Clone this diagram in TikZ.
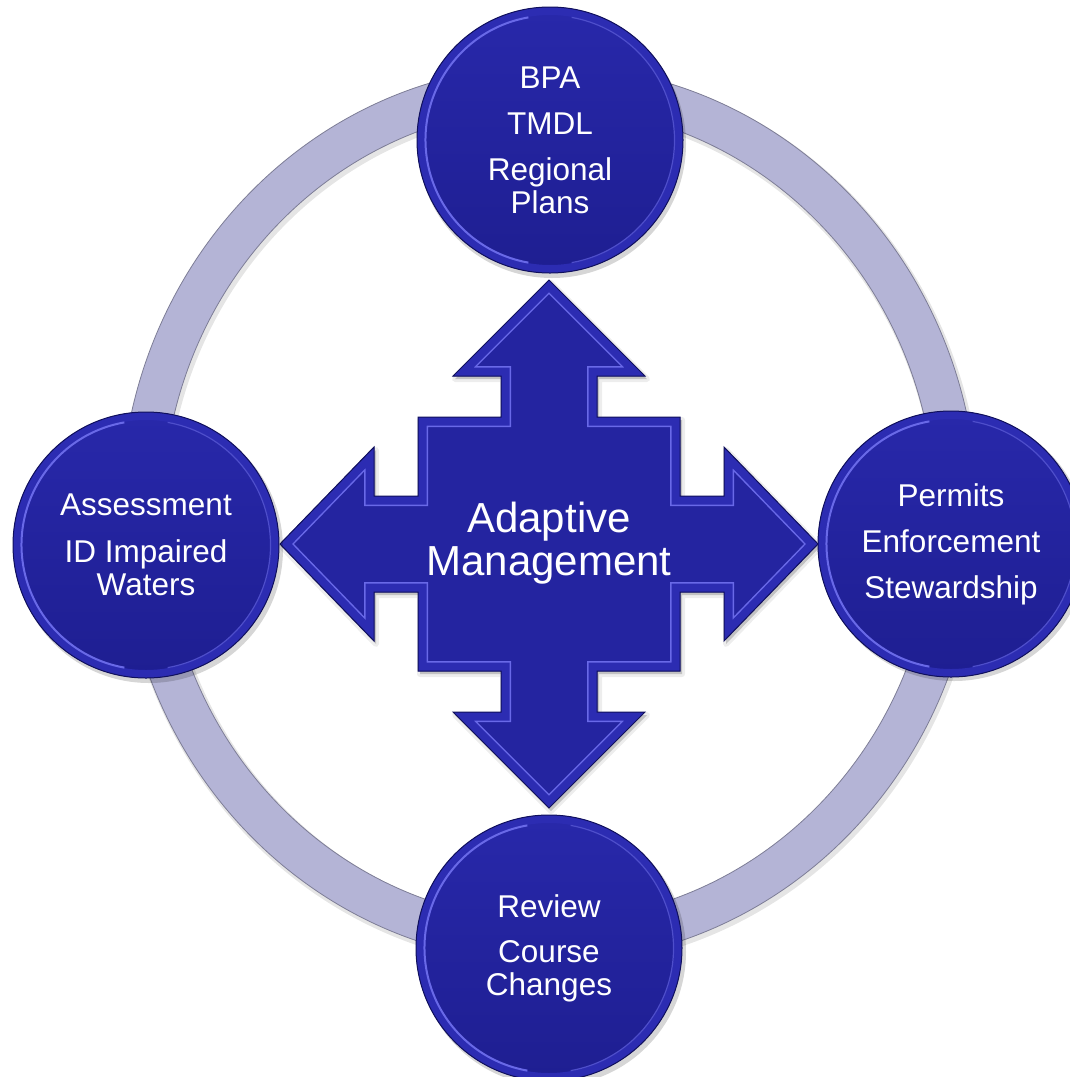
\documentclass[tikz,border=0pt]{standalone}
\usepackage{fontspec}
\setmainfont{Liberation Sans}
\definecolor{ringfill}{RGB}{180,180,214}
\definecolor{ringline}{RGB}{125,125,150}
\definecolor{bluefill}{RGB}{36,36,160}
\definecolor{bluetop}{RGB}{40,40,170}
\definecolor{bluebot}{RGB}{30,30,145}
\definecolor{bluedark}{RGB}{16,16,92}
\definecolor{bluebevel}{RGB}{44,44,178}
\definecolor{bluelight}{RGB}{105,105,232}
\def\crossshape{(549,280) -- (645,376) -- (597,376) -- (597,417) -- (680,417) -- (680,496) -- (724,496) -- (724,447) -- (818,544) -- (724,641) -- (724,592) -- (680,592) -- (680,671) -- (597,671) -- (597,712) -- (645,712) -- (549,808) -- (453,712) -- (501,712) -- (501,671) -- (418,671) -- (418,592) -- (374,592) -- (374,641) -- (280,544) -- (374,447) -- (374,496) -- (418,496) -- (418,417) -- (501,417) -- (501,376) -- (453,376) -- cycle}
\begin{document}
\begin{tikzpicture}[x=1pt,y=-1pt,
  bubble/.style={circle, minimum size=266pt, inner sep=0pt,
    top color=bluetop, bottom color=bluebot, draw=bluedark, line width=1pt,
    text=white, align=center, font=\fontsize{31.5}{33}\selectfont,
    path picture={
      \draw[bluebevel, line width=8pt] (path picture bounding box.center) circle (129pt);
      \draw[bluelight, line width=2pt] (path picture bounding box.center) ++(100:124.5pt) arc (100:260:124.5pt);
      \draw[bluelight!60!bluefill, line width=1.2pt] (path picture bounding box.center) ++(-80:124.5pt) arc (-80:80:124.5pt);
    }},
  bubshadow/.style={black, opacity=0.16},
  ringband/.style={ringfill, line width=42pt},
  ringedge/.style={ringline, line width=0.8pt},
  amtext/.style={text=white, align=center, font=\fontsize{42}{43.5}\selectfont}
]
\useasboundingbox (0,0) rectangle (1070,1077);
\clip (0,0) rectangle (1070,1077);
\fill[white] (0,0) rectangle (1070,1077);

% ring
\draw[black, opacity=0.10, line width=46pt] (551,517) ellipse [x radius=407.5pt, y radius=427.5pt];
\draw[ringband] (549,514) ellipse [x radius=407.5pt, y radius=427.5pt];
\draw[ringedge] (549,514) ellipse [x radius=428.5pt, y radius=448.5pt];
\draw[ringedge] (549,514) ellipse [x radius=386.5pt, y radius=406.5pt];

% cross shadow
\begin{scope}[transform canvas={shift={(2pt,-3pt)}}]
  \draw[black, opacity=0.07, line width=6pt, line join=round] \crossshape;
  \fill[black, opacity=0.18] \crossshape;
\end{scope}
% cross with bevel
\begin{scope}
  \clip \crossshape;
  \fill[bluefill] \crossshape;
  \draw[bluelight, line width=20pt, line join=miter] \crossshape;
  \draw[bluebevel, line width=17pt, line join=miter] \crossshape;
\end{scope}
\draw[bluedark, line width=1pt, line join=miter] \crossshape;
\node[amtext] (am) at (549,543) {Adaptive\\Management};

% circle shadows
\fill[bubshadow] (552,144) circle (134pt);
\fill[bubshadow] (149,549) circle (134pt);
\fill[bubshadow] (954,547) circle (134pt);
\fill[bubshadow] (552,952) circle (134pt);

% circles
\node[bubble] (plans) at (550,140) {BPA\\[13pt]TMDL\\[13pt]Regional\\Plans};
\node[bubble] (assess) at (146,545) {Assessment\\[14pt]ID Impaired\\Waters};
\node[bubble] (permits) at (951,544) {Permits\\[13pt]Enforcement\\[13pt]Stewardship};
\node[bubble] (review) at (549,948) {Review\\[12pt]Course\\Changes};
\end{tikzpicture}
\end{document}
